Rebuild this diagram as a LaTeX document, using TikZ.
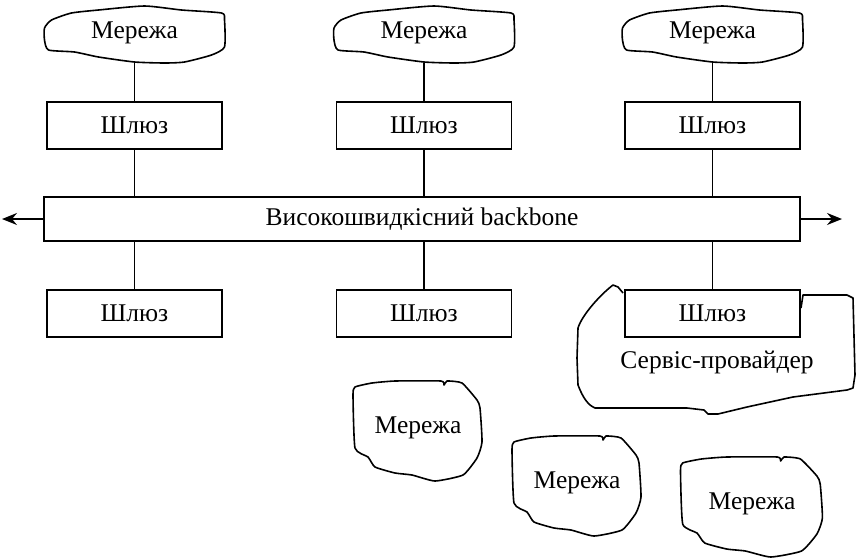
\documentclass[tikz,border=0pt]{standalone}
\usepackage{fontspec}
\setmainfont{Liberation Serif}
\usetikzlibrary{arrows.meta}

\newcommand\lblfont{\fontsize{25.5}{29}\selectfont}

\tikzset{
  gw/.style={draw, line width=1.4pt, minimum width=175pt, minimum height=47pt,
             inner sep=0pt, font=\lblfont},
  bbone/.style={draw, line width=1.6pt, minimum width=756pt, minimum height=44pt,
             inner sep=0pt, font=\lblfont},
  lbl/.style={inner sep=0pt, font=\lblfont},
  link/.style={line width=1.1pt},
  tip/.style={line width=1.6pt, -{Stealth[length=15pt,width=12pt,inset=5pt]}},
  cloudline/.style={line width=1.6pt, line join=round},
  % flat cloud above each gateway
  wide cloud/.pic={
    \draw[cloudline] plot[smooth cycle, tension=0.35] coordinates {
      (-90,-7) (-83,-15) (-63,-22) (-36,-25) (10,-29) (47,-25) (87,-22)
      (90,-15) (90,12) (77,20) (50,27) (30,28) (0,27) (-36,22) (-60,17)
      (-86,15) (-90,5)};
  },
  % loose network blob
  blob/.pic={
    \draw[cloudline] plot[smooth cycle, tension=0.3] coordinates {
      (-63,-44) (-46,-48) (-23,-50) (23,-50) (26,-46) (29,-50) (44,-48)
      (59,-31) (62,-23) (64,11) (59,27) (45,44) (17,50) (-6,44) (-23,42)
      (-43,36) (-50,26) (-63,17) (-65,-36)};
  }
}

\begin{document}
\begin{tikzpicture}[x=1pt, y=-1pt]
  \useasboundingbox (0,0) rectangle (856,558);

  % backbone
  \node[bbone] (bb) at (422,219) {Високошвидкісний backbone};
  \coordinate (lend) at (2,219);
  \coordinate (rend) at (842,219);
  \draw[tip] (bb.west) -- (lend);
  \draw[tip] (bb.east) -- (rend);

  % upper gateways and their networks
  \foreach \i/\x in {1/134.5, 2/424, 3/712.5} {
    \node[gw] (gu\i) at (\x,125.5) {Шлюз};
    \pic at (\x,35) {wide cloud};
    \node[lbl] (nu\i) at (\x,33) {Мережа};
    \coordinate (nub\i) at (\x,63);
    \draw[link] (nub\i) -- (gu\i.north);
    \draw[link] (gu\i.south) -- (gu\i.south |- bb.north);
  }

  % lower gateways
  \foreach \i/\x in {1/134.5, 2/424, 3/712.5} {
    \node[gw, fill=white] (gl\i) at (\x,313.5) {Шлюз};
  }

  % service provider outline around the right lower gateway
  \coordinate (spl) at (623,293);
  \coordinate (spr) at (801,308);
  \draw[cloudline] (spl) -- (618,287) -- (613,285)
    .. controls (600,295) and (582,315) .. (578,328)
    -- (577,358) -- (578,385)
    .. controls (583,398) and (588,405) .. (595,408)
    -- (637,408) -- (687,408) -- (704,410) -- (708,414) -- (718,414)
    -- (747,407) -- (793,397) -- (847,390) -- (853,388)
    -- (855,375) -- (853,298) -- (847,295) -- (803,295) -- (spr);
  \node[gw, fill=white] at (gl3) {Шлюз};
  \node[lbl] (sp) at (717,362) {Сервіс-провайдер};

  \foreach \i in {1,2,3} {
    \draw[link] (gl\i.north) -- (gl\i.north |- bb.south);
  }

  % independent networks
  \pic at (418,431) {blob};
  \node[lbl] (na) at (418,428) {Мережа};
  \pic at (577,486) {blob};
  \node[lbl] (nb) at (577,483) {Мережа};
  \pic[xscale=1.1] at (752,507) {blob};
  \node[lbl] (nc) at (752,504) {Мережа};
\end{tikzpicture}
\end{document}
